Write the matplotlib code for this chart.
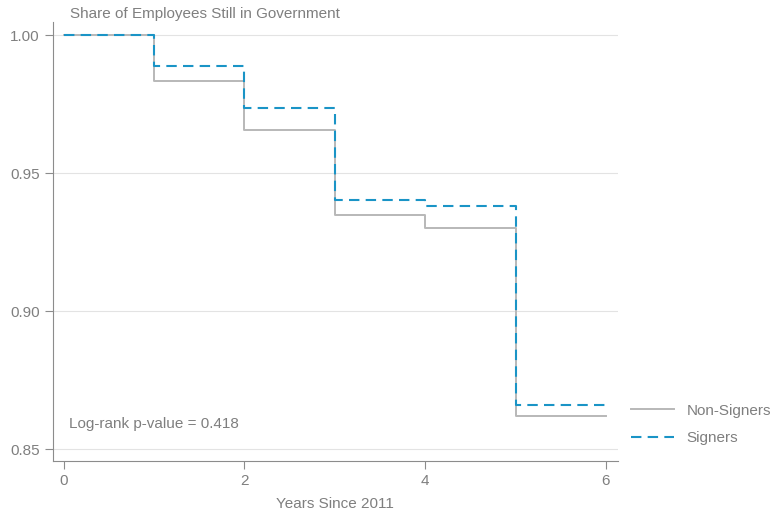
import matplotlib.pyplot as plt
import numpy as np

plt.rcParams['font.family'] = ['Liberation Sans', 'DejaVu Sans']

years = [0, 1, 2, 3, 4, 5, 6]
non_signers = [1.0, 0.9833, 0.9656, 0.9348, 0.9301, 0.862, 0.862]
signers = [1.0, 0.9888, 0.9736, 0.9402, 0.938, 0.866, 0.866]
yticks = [0.85, 0.90, 0.95, 1.00]
xticks = [0, 2, 4, 6]

txt = '#7f7f7f'
fig = plt.figure(figsize=(7.78, 5.14), dpi=100)
ax = fig.add_axes([0.068, 0.103, 0.726, 0.854])

ax.step(years, non_signers, where='post', color='#b8b8b8', lw=1.4, label='Non-Signers')
ax.step(years, signers, where='post', color='#1a94c6', lw=1.5, ls=(0, (5, 3)), label='Signers')

ax.set_xlim(-0.12, 6.13)
ax.set_ylim(0.8457, 1.0047)
ax.set_yticks(yticks)
ax.set_yticklabels(['%.2f' % v for v in yticks])
ax.set_xticks(xticks)
ax.grid(axis='y', color='#e3e3e3', lw=0.8)
ax.set_axisbelow(True)
for s in ['top', 'right']:
    ax.spines[s].set_visible(False)
for s in ['left', 'bottom']:
    ax.spines[s].set_color('#8c8c8c')
ax.tick_params(colors='#8c8c8c', labelcolor=txt, labelsize=11, length=6)
ax.set_xlabel('Years Since 2011', color=txt, fontsize=11, labelpad=6)
ax.text(0.03, 1.002, 'Share of Employees Still in Government', transform=ax.transAxes,
        color=txt, fontsize=11, va='bottom')
ax.text(0.055, 0.859, 'Log-rank p-value = 0.418', color=txt, fontsize=11, va='center')

ax.legend(loc='center left', bbox_to_anchor=(1.0, 0.083), frameon=False,
          labelcolor=txt, fontsize=11, handlelength=2.8, labelspacing=0.9)

fig.savefig('out.png', dpi=100)
